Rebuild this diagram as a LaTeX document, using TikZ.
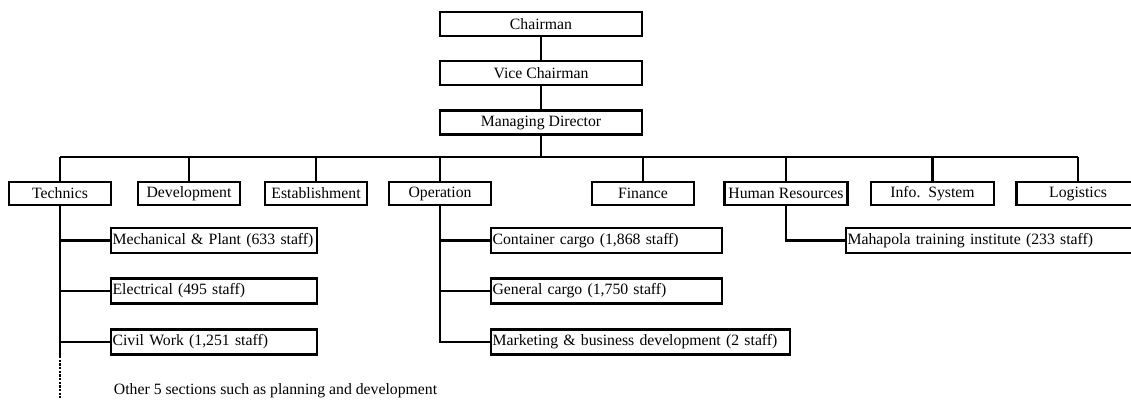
\documentclass[tikz,border=0pt]{standalone}
\usepackage{fontspec}
\setmainfont{Liberation Serif}
\tikzset{
  unit/.style={draw, fill=white, line width=1.6pt, inner sep=0pt,
    font=\fontsize{11.2}{13}\selectfont,
    preaction={fill=black, transform canvas={xshift=0.8pt, yshift=-0.8pt}}},
  head/.style={unit, minimum width=5.05cm, minimum height=0.6cm},
  dept/.style={unit, minimum width=#1, minimum height=0.575cm},
  dept/.default=2.55cm,
  sect/.style={unit, anchor=west, minimum height=0.63cm, inner xsep=1pt,
    text width=#1, align=left},
  link/.style={line width=1.6pt},
}
\begin{document}
\begin{tikzpicture}[x=0.025cm,y=-0.025cm]
\useasboundingbox (0,0) rectangle (1131,400);
% top of the chart
\node[head] (chair) at (541,24) {Chairman};
\node[head] (vice) at (541,73) {Vice Chairman};
\node[head] (md) at (541,122.5) {Managing Director};
\draw[link] (chair) -- (vice) (vice) -- (md);
% departments
\coordinate (bus) at (0,157);
\node[dept] (tech) at (60,193.5) {Technics};
\node[dept] (dev) at (189,193.5) {Development};
\node[dept] (est) at (316,193.5) {Establishment};
\node[dept] (op) at (440,193.5) {Operation};
\node[dept] (fin) at (643,193.5) {Finance};
\node[dept=3.075cm] (hr) at (786,193.5) {Human Resources};
\node[dept=3.075cm] (info) at (932.5,193.5) {Info.\ \ System};
\node[dept=3.075cm] (logi) at (1078,193.5) {Logistics};
\draw[link] (md.south) -- (md.south |- bus)
  (tech.north |- bus) -- (logi.north |- bus);
\foreach \d in {tech,dev,est,op,fin,hr,info,logi}
  \draw[link] (\d.north) -- (\d.north |- bus);
% sections
\node[sect=5.08cm] (mech) at (110,240.5) {Mechanical \& Plant (633 staff)};
\node[sect=5.08cm] (elec) at (110,291) {Electrical (495 staff)};
\node[sect=5.08cm] (civ) at (110,342) {Civil Work (1,251 staff)};
\node[sect=5.7cm] (cont) at (490,240.5) {Container cargo (1,868 staff)};
\node[sect=5.7cm] (gen) at (490,291) {General cargo (1,750 staff)};
\node[sect=7.4cm] (mkt) at (490,342) {Marketing \& business development (2 staff)};
\node[sect=7.4cm] (maha) at (845,240.5) {Mahapola training institute (233 staff)};
\draw[link] (tech.south) |- (civ.west)
  (tech.south |- mech.west) -- (mech.west)
  (tech.south |- elec.west) -- (elec.west);
\draw[link] (op.south) |- (mkt.west)
  (op.south |- cont.west) -- (cont.west)
  (op.south |- gen.west) -- (gen.west);
\draw[link] (hr.south) |- (maha.west);
% the rest of Technics
\coordinate (more) at (60,400);
\draw[link] (tech.south |- civ.west) -- ++(0,14) coordinate (dots);
\draw[line width=1.6pt, densely dotted] (dots) -- (more);
\node[anchor=west, font=\fontsize{11.2}{13}\selectfont] (other) at (109,391)
  {Other 5 sections such as planning and development};
\end{tikzpicture}
\end{document}
